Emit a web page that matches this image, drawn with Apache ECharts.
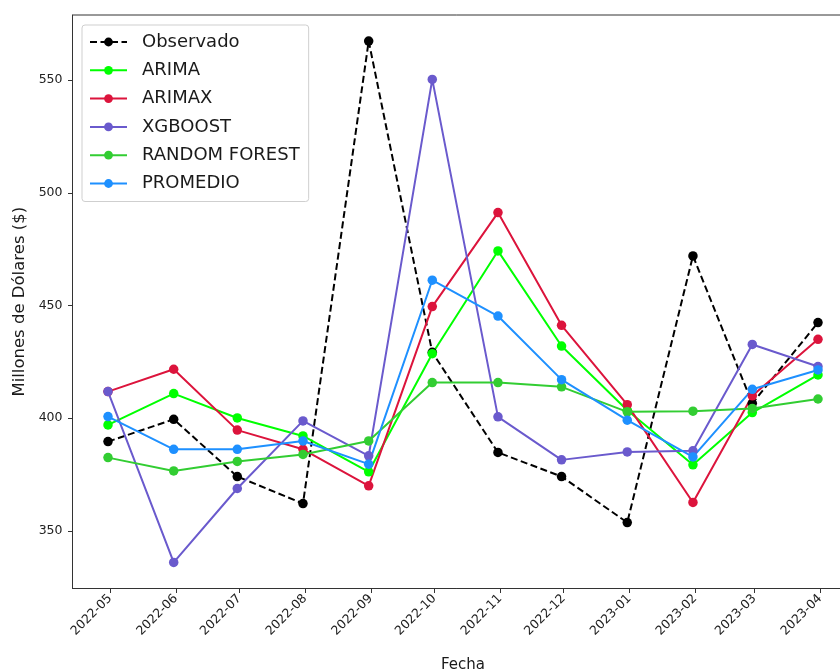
<!DOCTYPE html>
<html>
<head>
<meta charset="utf-8">
<script src="https://cdn.jsdelivr.net/npm/echarts@6/dist/echarts.min.js"></script>
<style>
  html, body { margin: 0; padding: 0; background: #ffffff; }
  #chart { width: 840px; height: 669px; }
</style>
</head>
<body>
<div id="chart"></div>
<script>
// Fechas de cada observación (fin de mes) y etiquetas del eje
const fechas = ['2022-04-30', '2022-05-31', '2022-06-30', '2022-07-31', '2022-08-31', '2022-09-30',
                '2022-10-31', '2022-11-30', '2022-12-31', '2023-01-31', '2023-02-28', '2023-03-31'];
const etiquetasMes = ['2022-05', '2022-06', '2022-07', '2022-08', '2022-09', '2022-10',
                      '2022-11', '2022-12', '2023-01', '2023-02', '2023-03', '2023-04'];
const ticksY = [350, 400, 450, 500, 550];

// Valores en millones de dólares
const observado = [389.6, 399.5, 374.1, 362.1, 567.3, 429.2, 384.8, 374.1, 353.7, 472.0, 406.6, 442.4];
const arima     = [397.0, 410.9, 400.1, 392.1, 376.2, 428.6, 474.2, 432.0, 403.5, 379.3, 402.5, 419.2];
const arimax    = [411.8, 421.7, 394.7, 386.2, 370.0, 449.5, 491.2, 441.2, 406.0, 362.6, 409.9, 435.0];
const xgboost   = [411.8, 336.0, 368.8, 398.8, 383.3, 550.3, 400.6, 381.5, 385.0, 385.5, 432.7, 422.9];
const randomForest = [382.5, 376.6, 380.8, 383.9, 389.9, 415.8, 415.8, 413.9, 402.8, 403.1, 404.3, 408.5];
const promedio  = [400.7, 386.2, 386.2, 389.9, 379.6, 461.2, 445.3, 417.1, 399.1, 382.8, 412.8, 421.4];

// Días transcurridos desde el 1970-01-01 (UTC) para un eje numérico continuo
const DIA = 86400000;
function aDias(s) {
  const p = s.split('-').map(Number);
  return Date.UTC(p[0], p[1] - 1, p[2] || 1) / DIA;
}
const dias = fechas.map(aDias);
const ticksX = etiquetasMes.map(aDias);
const nombreMes = {};
etiquetasMes.forEach((e, i) => { nombreMes[ticksX[i]] = e; });

function pares(valores) {
  return valores.map((v, i) => [dias[i], v]);
}

// Márgenes del 5 % alrededor de los datos
const dMin = Math.min(...dias), dMax = Math.max(...dias);
const dPad = (dMax - dMin) * 0.05;
const todos = [].concat(observado, arima, arimax, xgboost, randomForest, promedio);
const vMin = Math.min(...todos), vMax = Math.max(...todos);
const vPad = (vMax - vMin) * 0.05;

const FONT = 'DejaVu Sans';

function serie(nombre, valores, color, discontinua) {
  return {
    name: nombre,
    type: 'line',
    data: pares(valores),
    symbol: 'circle',
    symbolSize: 9.5,
    showSymbol: true,
    animation: false,
    itemStyle: { color: color, borderWidth: 0 },
    lineStyle: { color: color, width: 2, type: discontinua ? [7, 3.5] : 'solid' },
    emphasis: { disabled: true }
  };
}

const chart = echarts.init(document.getElementById('chart'), null, { renderer: 'canvas' });
chart.setOption({
  animation: false,
  backgroundColor: '#ffffff',
  grid: {
    left: 72.5, top: 15, width: 781, height: 573.5,
    outerBoundsMode: 'none',
    containLabel: false,
    show: true, borderColor: '#333', borderWidth: 1, backgroundColor: 'transparent'
  },
  legend: {
    orient: 'vertical',
    left: 82, top: 25,
    padding: [8, 9, 9, 7],
    itemWidth: 37, itemHeight: 11,
    itemGap: 10.3,
    borderColor: '#cfcfcf', borderWidth: 1, borderRadius: 3,
    backgroundColor: 'rgba(255,255,255,0.85)',
    textStyle: { fontFamily: FONT, fontSize: 18, color: '#1a1a1a', lineHeight: 18, padding: [0, 0, 0, 10] },
    data: ['Observado', 'ARIMA', 'ARIMAX', 'XGBOOST', 'RANDOM FOREST', 'PROMEDIO']
  },
  xAxis: {
    type: 'value',
    scale: true,
    min: dMin - dPad,
    max: dMax + dPad,
    name: 'Fecha',
    nameLocation: 'middle',
    nameGap: 69,
    nameTextStyle: { fontFamily: FONT, fontSize: 15, color: '#1a1a1a' },
    axisLine: { show: true, lineStyle: { color: '#333', width: 1 } },
    axisTick: { show: true, length: 4.5, lineStyle: { color: '#333' }, customValues: ticksX },
    axisLabel: {
      show: true,
      customValues: ticksX,
      rotate: 45,
      margin: 8,
      fontFamily: FONT, fontSize: 12.5, color: '#222',
      formatter: function (v) {
        return nombreMes[Math.round(v)] || '';
      }
    },
    splitLine: { show: false }
  },
  yAxis: {
    type: 'value',
    min: vMin - vPad,
    max: vMax + vPad,
    name: 'Millones de Dólares ($)',
    nameLocation: 'middle',
    nameGap: 43,
    nameTextStyle: { fontFamily: FONT, fontSize: 16.5, color: '#1a1a1a' },
    axisLine: { show: true, lineStyle: { color: '#333', width: 1 } },
    axisTick: { show: true, length: 4.5, lineStyle: { color: '#333' }, customValues: ticksY },
    axisLabel: {
      show: true,
      customValues: ticksY,
      margin: 10,
      fontFamily: FONT, fontSize: 12.5, color: '#222'
    },
    splitLine: { show: false }
  },
  series: [
    serie('Observado', observado, '#000000', true),
    serie('ARIMA', arima, '#00ff00', false),
    serie('ARIMAX', arimax, '#dc143c', false),
    serie('XGBOOST', xgboost, '#6a5acd', false),
    serie('RANDOM FOREST', randomForest, '#32cd32', false),
    serie('PROMEDIO', promedio, '#1e90ff', false)
  ]
});
</script>
</body>
</html>
